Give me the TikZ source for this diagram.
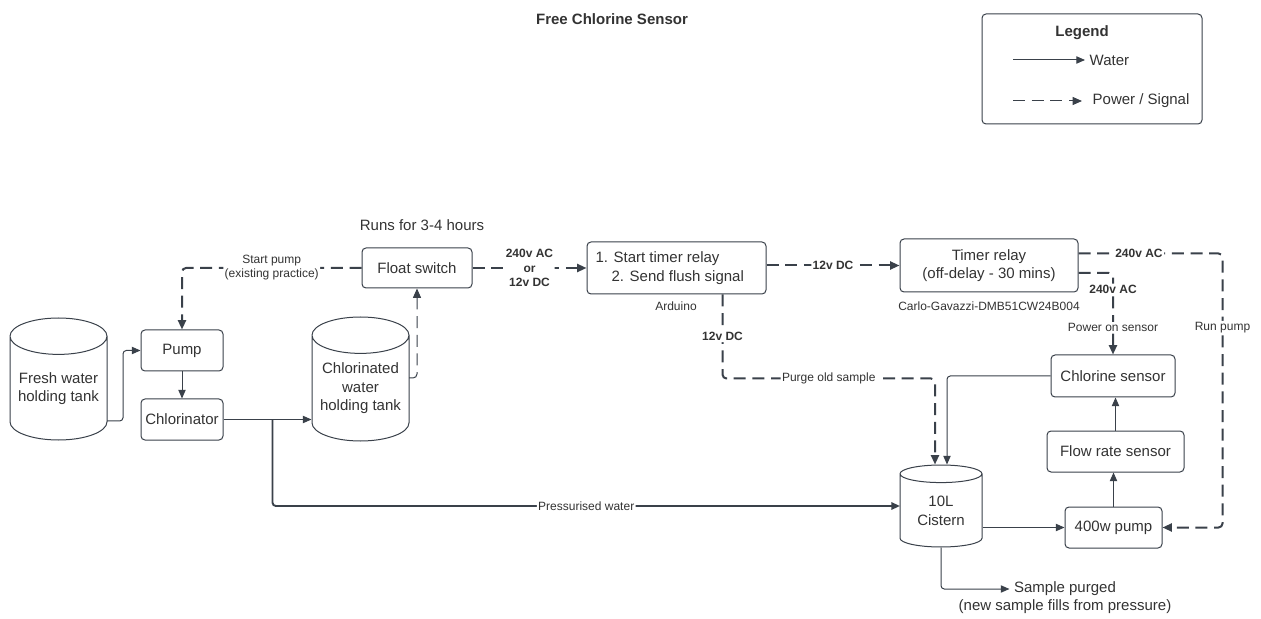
\documentclass[tikz,border=0pt]{standalone}
\usepackage{fontspec}
\setmainfont{Liberation Sans}
\usetikzlibrary{arrows.meta,shapes.geometric,calc}
\definecolor{linegray}{HTML}{3A414A}
\definecolor{textgray}{HTML}{333333}

\begin{document}
\begin{tikzpicture}[x=0.75pt,y=-0.75pt,
    font=\fontsize{11.25}{13.8}\selectfont, text=textgray,
    box/.style={draw=linegray,line width=0.75pt,rounded corners=3pt,inner sep=0pt,align=center},
    tank/.style={draw=linegray,line width=0.75pt,cylinder,shape border rotate=90,inner sep=0pt,align=center,anchor=shape center},
    water/.style={draw=linegray,line width=0.75pt,rounded corners=2.5pt,-{Triangle[length=6.5pt,width=5.5pt]}},
    signal/.style={draw=linegray,line width=1.5pt,dash pattern=on 9pt off 5pt,rounded corners=3pt,-{Triangle[length=7pt,width=6pt]}},
    thin signal/.style={signal,line width=0.75pt},
    wirelabel/.style={font=\fontsize{9}{10.5}\selectfont,fill=white,inner sep=1pt,align=center},
    boldlabel/.style={wirelabel,font=\fontsize{9}{10.8}\selectfont\bfseries}]

    % Page
    \path[fill=white] (0,0) rectangle (1261,617);

    % Title and legend
    \node[font=\fontsize{11.25}{13.5}\selectfont\bfseries] (title) at (612,19) {Free Chlorine Sensor};
    \node[box,minimum width=165pt,minimum height=82.5pt] (legend) at (1092,69) {};
    \node[font=\fontsize{11.25}{13.5}\selectfont\bfseries] (legendtitle) at (1082,33) {Legend};
    \node[anchor=west] (legwater) at (1085,60) {Water};
    \node[anchor=west] (legsignal) at (1088,101) {Power / Signal};
    \draw[water] ($(legwater.west)+(-72,0)$) -- (legwater.west);
    \draw[thin signal] ($(legsignal.west)+(-75,0)$) -- ($(legsignal.west)+(-6,0)$);

    % Water supply side
    \node[tank,minimum width=72.75pt,minimum height=91.5pt,aspect=0.45] (fresh) at (58.5,379) {Fresh water\\holding tank};
    \node[box,minimum width=61.5pt,minimum height=30.75pt] (pump) at (182,350.5) {Pump};
    \node[box,minimum width=61.5pt,minimum height=30.75pt] (chlor) at (182,419.5) {Chlorinator};
    \node[tank,minimum width=72.75pt,minimum height=93pt,aspect=0.45] (chlortank) at (360.5,379) {Chlorinated\\water\\holding tank};
    \node[box,minimum width=82.5pt,minimum height=30pt] (float) at (417,268) {Float switch};
    \node (runs) at (422,225) {Runs for 3-4 hours};

    % Control side
    \node[box,minimum width=134.25pt,minimum height=39pt,align=left] (arduino) at (676.5,268) {1. Start timer relay\\\hspace*{1.07em}2. Send flush signal\hspace*{0.9em}};
    \node[wirelabel] (arduinoname) at (676,306) {Arduino};
    \node[box,minimum width=133.5pt,minimum height=39.75pt] (timer) at (989,265.5) {Timer relay\\(off-delay - 30 mins)};
    \node[wirelabel] (timername) at (989,306) {Carlo-Gavazzi-DMB51CW24B004};

    % Sample loop
    \node[box,minimum width=93pt,minimum height=31.5pt] (chlsensor) at (1113,376) {Chlorine sensor};
    \node[box,minimum width=102.75pt,minimum height=30.75pt] (flow) at (1115.5,451.5) {Flow rate sensor};
    \node[box,minimum width=72.75pt,minimum height=30.75pt] (pump400) at (1113.5,527.5) {400w pump};
    \node[tank,minimum width=61.5pt,minimum height=61.5pt,aspect=0.37] (cistern) at (941,506) {10L\\Cistern};
    \node (purged) at (1065,589) {Sample purged};
    \node (purgednote) at (1065,607) {(new sample fills from pressure)};

    % Water lines
    \draw[water] ($(fresh.shape center)+(48.5,42)$) -- ++(16,0) |- (pump.west);
    \draw[water] (pump.south) -- (chlor.north);
    \draw[water] (chlor.east) -- (chlor.east -| chlortank.west);
    \draw[water,line width=1.4pt] ($(chlor.east)+(49,0)$) |- node[wirelabel,pos=0.75]{Pressurised water} ($(cistern.shape center)+(-41,0)$);
    \draw[water] (cistern.east |- pump400.west) -- (pump400.west);
    \draw[water] (pump400.north) -- (pump400.north |- flow.south);
    \draw[water] (flow.north) -- (flow.north |- chlsensor.south);
    \draw[water] (chlsensor.west) -| ($(cistern.north)+(6,0)$);
    \draw[water] (cistern.south) |- (purged.west);

    % Power and signal lines
    \draw[thin signal] ($(chlortank.shape center)+(48.5,-1)$) -| (float.south);
    \draw[signal] (float.west) -| node[wirelabel,pos=0.25]{Start pump\\(existing practice)} (pump.north);
    \draw[signal] (float.east) -- node[boldlabel]{240v AC\\or\\12v DC} (arduino.west);
    \draw[signal] (arduino.east |- timer.west) -- node[boldlabel]{12v DC} (timer.west);
    \draw[signal] ($(arduino.south)+(46,0)$) -- node[boldlabel]{12v DC} ++(0,84) -| node[wirelabel,pos=0.25]{Purge old sample} ($(cistern.north)+(-6,0)$);
    \draw[signal] ($(timer.east)+(0,7.5)$) -| node[boldlabel,pos=0.6]{240v AC} node[wirelabel,pos=0.835]{Power on sensor} (chlsensor.north);
    \draw[signal] ($(timer.east)+(0,-12)$) -- node[boldlabel,pos=0.42]{240v AC} ++(144,0) |- node[wirelabel,pos=0.135]{Run pump} (pump400.east);
\end{tikzpicture}
\end{document}
